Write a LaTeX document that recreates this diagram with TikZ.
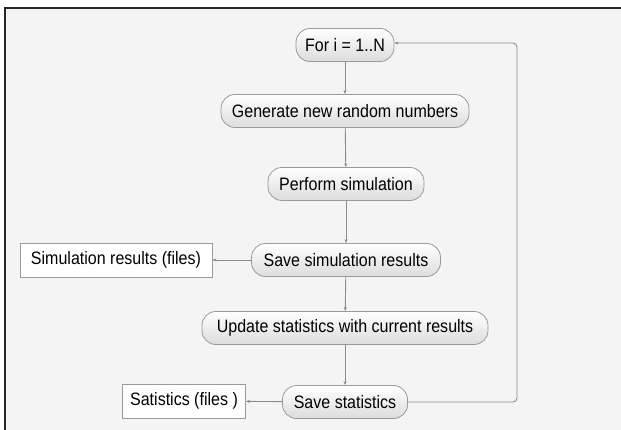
\documentclass[tikz,border=0pt]{standalone}
\usepackage{fontspec}
\setmainfont{Liberation Sans}
\newfontfamily\narrowfont[FakeStretch=0.89]{Liberation Sans}
\usetikzlibrary{arrows.meta}
\definecolor{bgc}{HTML}{F4F4F4}
\definecolor{edgec}{HTML}{9A9A9A}
\definecolor{linec}{HTML}{8C8C8C}
\definecolor{fillb}{HTML}{DCDCDC}
\tikzset{
  proc/.style={rectangle, rounded corners=14pt, draw=edgec, line width=0.8pt, top color=white, bottom color=fillb,
     font=\narrowfont\fontsize{18}{20}\selectfont, minimum height=33pt, inner xsep=4pt, inner ysep=2pt, text=black},
  store/.style={rectangle, draw=edgec, line width=0.8pt, fill=white,
     font=\narrowfont\fontsize{18}{20}\selectfont, minimum height=34pt, inner ysep=2pt, text=black},
  conn/.style={draw=linec, line width=0.9pt, -{Stealth[length=4pt,width=3pt]}}
}
\begin{document}
\begin{tikzpicture}[x=1pt,y=-1pt]
\useasboundingbox (0,0) rectangle (621,430);
\fill[white] (0,0) rectangle (621,430);
\fill[bgc] (5,8) rectangle (621,430);
\draw[black!85, line width=1.4pt] (5,430) -- (5,8) -- (621,8);
\node[proc, minimum width=98pt] (for) at (345,45) {For i = 1..N};
\node[proc, minimum width=248pt] (gen) at (345,111) {Generate new random numbers};
\node[proc, minimum width=156pt] (perf) at (346,184) {Perform simulation};
\node[proc, minimum width=189pt] (save) at (346,260) {Save simulation results};
\node[store, minimum width=192pt] (simf) at (116,260) {Simulation results (files)};
\node[proc, minimum width=286pt] (upd) at (345,328) {Update statistics with current results};
\node[proc, minimum width=125pt] (savs) at (345,402) {Save statistics};
\node[store, minimum width=123pt] (statf) at (184,401) {Satistics (files )};
\coordinate (c1) at (517,402);
\coordinate (c2) at (517,43);
\draw[conn] (for) -- (gen);
\draw[conn] (gen) -- (perf);
\draw[conn] (perf) -- (save);
\draw[conn] (save) -- (simf);
\draw[conn] (save) -- (upd);
\draw[conn] (upd) -- (savs);
\draw[conn] (savs) -- (statf);
\draw[conn, rounded corners=4pt] (savs.east) -- (c1) -- (c2) -- (for.east |- c2);
\end{tikzpicture}
\end{document}
